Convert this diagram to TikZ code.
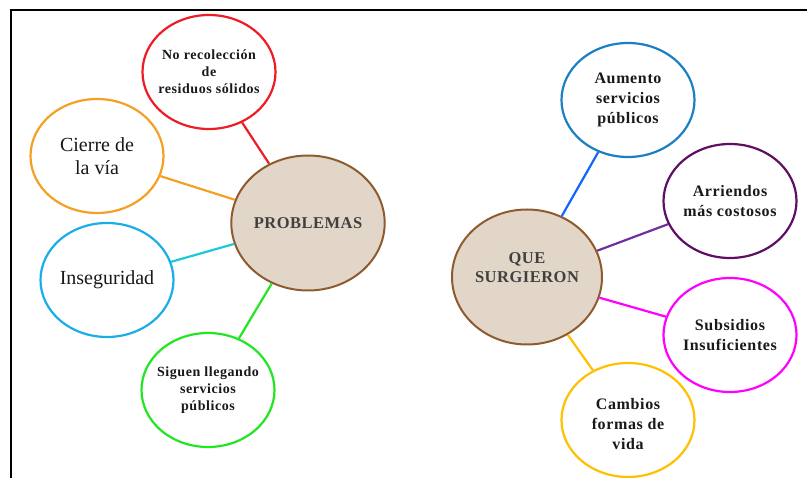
\documentclass[tikz,border=0pt]{standalone}
\usepackage{fontspec}
\setmainfont{Liberation Serif}
\usetikzlibrary{shapes.geometric}

\definecolor{hubedge}{HTML}{8E5B2E}
\definecolor{hubfill}{HTML}{E2D6C9}
\definecolor{hubtext}{HTML}{404040}
\definecolor{redline}{HTML}{EE1C25}
\definecolor{orangeline}{HTML}{F5A024}
\definecolor{skyline}{HTML}{1AAEE9}
\definecolor{cyanline}{HTML}{1EC8DC}
\definecolor{greenline}{HTML}{22E622}
\definecolor{blueedge}{HTML}{1B7FC4}
\definecolor{blueline}{HTML}{1464FF}
\definecolor{purpleedge}{HTML}{5E0E63}
\definecolor{purpleline}{HTML}{7030A0}
\definecolor{magentaline}{HTML}{FF00FF}
\definecolor{yellowline}{HTML}{FFC000}

\begin{document}
\begin{tikzpicture}[x=1pt, y=-1pt,
		idea/.style={ellipse, draw, line width=2.2pt, fill=white, minimum width=133pt, minimum height=114pt, inner xsep=-8pt, inner ysep=0pt, align=center, text=black!90},
		small/.style={font=\bfseries\fontsize{14}{17}\selectfont\addfontfeature{LetterSpace=4}},
		large/.style={font=\bfseries\fontsize{16}{20}\selectfont\addfontfeature{LetterSpace=4}},
		plain/.style={font=\fontsize{20}{23}\selectfont},
		hub/.style={ellipse, draw=hubedge, line width=2pt, fill=hubfill, minimum width=150pt, minimum height=135pt, inner sep=0pt, align=center, text=hubtext, font=\bfseries\fontsize{16.5}{19}\selectfont\addfontfeature{LetterSpace=3}},
		link/.style={line width=2.2pt}]
			\useasboundingbox (0, 0) rectangle (807, 478);
			\draw[black, line width=2pt]	(11, 478) to (11, 10) to (807, 10);

			% problemas
			\node[hub] (problemas) at (308, 223) {PROBLEMAS};
			\node[idea, small, draw=redline] (residuos) at (209, 72) {No recolección\\de\\residuos sólidos};
			\node[idea, plain, draw=orangeline] (via) at (97, 156) {Cierre de\\la vía};
			\node[idea, plain, draw=skyline] (inseguridad) at (107, 280) {Inseguridad};
			\node[idea, small, draw=greenline] (llegando) at (208, 390) {Siguen llegando\\servicios\\públicos};

			\draw[link, redline]		(residuos) to (problemas);
			\draw[link, orangeline]	(via) to (problemas);
			\draw[link, cyanline]		(inseguridad) to (problemas);
			\draw[link, greenline]	(llegando) to (problemas);

			% que surgieron
			\node[hub] (surgieron) at (527, 277) {QUE\\SURGIERON\\~};
			\node[idea, large, draw=blueedge] (aumento) at (628, 100) {Aumento\\servicios\\públicos};
			\node[idea, large, draw=purpleedge] (arriendos) at (730, 201) {Arriendos\\más costosos};
			\node[idea, large, draw=magentaline] (subsidios) at (730, 335) {Subsidios\\Insuficientes};
			\node[idea, large, draw=yellowline] (cambios) at (628, 420) {~\\Cambios\\formas de\\vida};

			\draw[link, blueline]		(surgieron) to (aumento);
			\draw[link, purpleline]	(surgieron) to (arriendos);
			\draw[link, magentaline]	(surgieron) to (subsidios);
			\draw[link, yellowline]	(surgieron) to (cambios);
\end{tikzpicture}
\end{document}
